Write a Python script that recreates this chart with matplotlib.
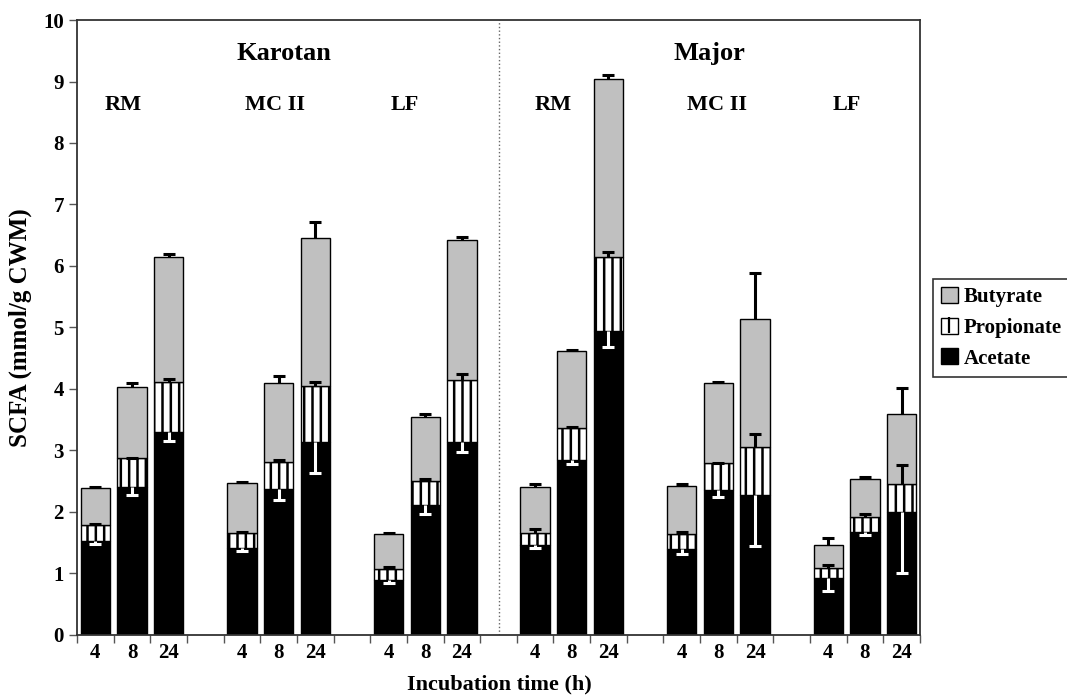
import matplotlib
matplotlib.use('Agg')
import matplotlib.pyplot as plt
from matplotlib.patches import Patch
from matplotlib.lines import Line2D
import numpy as np

plt.rcParams['font.family'] = ['Liberation Serif', 'DejaVu Serif']
plt.rcParams['font.weight'] = 'bold'
plt.rcParams['axes.labelweight'] = 'bold'
plt.rcParams['hatch.linewidth'] = 1.8

# slot index of each bar on the category axis (gaps between groups are empty slots)
positions = [0, 1, 2, 4, 5, 6, 8, 9, 10, 12, 13, 14, 16, 17, 18, 20, 21, 22]
hours = ['4', '8', '24'] * 6

acetate = [1.53, 2.41, 3.30, 1.41, 2.37, 3.13, 0.90, 2.12, 3.14,
           1.46, 2.85, 4.94, 1.39, 2.36, 2.28, 0.93, 1.68, 2.00]
propionate = [0.26, 0.46, 0.82, 0.25, 0.44, 0.92, 0.18, 0.39, 1.01,
              0.20, 0.51, 1.21, 0.25, 0.43, 0.77, 0.16, 0.24, 0.45]
butyrate = [0.60, 1.17, 2.03, 0.81, 1.28, 2.40, 0.56, 1.03, 2.28,
            0.75, 1.25, 2.89, 0.79, 1.30, 2.09, 0.38, 0.62, 1.15]

acetate_sd = [0.05, 0.13, 0.15, 0.04, 0.17, 0.50, 0.06, 0.16, 0.17,
              0.05, 0.07, 0.25, 0.08, 0.12, 0.83, 0.21, 0.05, 1.00]
propionate_sd = [0.02, 0.01, 0.05, 0.02, 0.03, 0.07, 0.03, 0.02, 0.10,
                 0.07, 0.02, 0.07, 0.04, 0.01, 0.22, 0.04, 0.04, 0.32]
butyrate_sd = [0.02, 0.06, 0.05, 0.01, 0.12, 0.27, 0.01, 0.06, 0.04,
               0.05, 0.02, 0.06, 0.03, 0.02, 0.75, 0.10, 0.03, 0.41]

cultivars = ['Karotan', 'Major']
fractions = ['RM', 'MC II', 'LF', 'RM', 'MC II', 'LF']

x = np.array(positions)
ac = np.array(acetate)
pr = np.array(propionate)
bu = np.array(butyrate)

fig = plt.figure(figsize=(10.67, 6.97), dpi=100)
ax = fig.add_axes([0.0722, 0.089, 0.79, 0.8823])

w = 0.8
ax.bar(x, ac, w, color='black', edgecolor='black', linewidth=1.0, zorder=2)
ax.bar(x, pr, w, bottom=ac, color='white', edgecolor='black', hatch='||',
       linewidth=1.0, zorder=2)
ax.bar(x, bu, w, bottom=ac + pr, color='#c0c0c0', edgecolor='black',
       linewidth=1.0, zorder=2)

zeros = np.zeros(len(x))
# acetate sd drawn downward in white, others upward in black
eb = ax.errorbar(x, ac, yerr=[acetate_sd, zeros], fmt='none', ecolor='white',
                 elinewidth=2.2, capsize=4.5, capthick=2.2, zorder=3)
eb[1][1].set_visible(False)
eb = ax.errorbar(x, ac + pr, yerr=[zeros, propionate_sd], fmt='none', ecolor='black',
                 elinewidth=2.2, capsize=4.5, capthick=2.2, zorder=3)
eb[1][0].set_visible(False)
eb = ax.errorbar(x, ac + pr + bu, yerr=[zeros, butyrate_sd], fmt='none', ecolor='black',
                 elinewidth=2.2, capsize=4.5, capthick=2.2, zorder=3)
eb[1][0].set_visible(False)

ax.axvline(11, color='#666666', linestyle=':', linewidth=1.0, zorder=1)

ax.set_xlim(-0.5, 22.5)
ax.set_ylim(0, 10)
ax.set_yticks(range(0, 11))
ax.set_xticks(np.arange(-0.5, 23, 1))
ax.set_xticklabels([])
ax.set_xticks(x, minor=True)
ax.set_xticklabels(hours, minor=True)
ax.tick_params(axis='x', which='major', length=6, width=1, color='#555555', direction='out')
ax.tick_params(axis='x', which='minor', length=0, labelsize=15, pad=6)
ax.tick_params(axis='y', length=6, width=1, color='#555555', labelsize=15)
for s in ax.spines.values():
    s.set_linewidth(1.3)
    s.set_color('#333333')

ax.set_ylabel('SCFA (mmol/g CWM)', fontsize=18, labelpad=8)
fig.text(0.468, 0.004, 'Incubation time (h)', fontsize=16, ha='center', va='bottom')

# group labels
ax.text(5.14, 9.45, cultivars[0], fontsize=19, ha='center', va='center')
ax.text(16.75, 9.45, cultivars[1], fontsize=19, ha='center', va='center')
label_x = [0.75, 4.9, 8.45, 12.5, 16.97, 20.5]
for lx, name in zip(label_x, fractions):
    ax.text(lx, 8.62, name, fontsize=16, ha='center', va='center')

prop_handle = (Patch(facecolor='white', edgecolor='black'),
               Line2D([], [], marker='|', color='black', markersize=11,
                      markeredgewidth=1.6, linestyle='none'))
handles = [Patch(facecolor='#c0c0c0', edgecolor='black'),
           prop_handle,
           Patch(facecolor='black', edgecolor='black')]
labels = ['Butyrate', 'Propionate', 'Acetate']
leg = fig.legend(handles, labels, loc='upper left', bbox_to_anchor=(0.874, 0.600),
                 fontsize=15, frameon=True, fancybox=False, edgecolor='black',
                 borderaxespad=0, handlelength=0.8, handleheight=0.8,
                 handletextpad=0.3, borderpad=0.4, labelspacing=0.5)
leg.get_frame().set_linewidth(1.2)

fig.savefig('out.png', dpi=100)
